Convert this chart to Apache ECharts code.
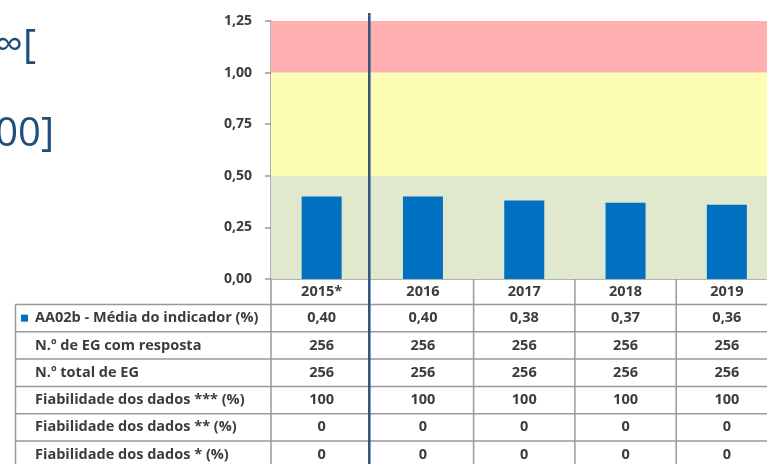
<!DOCTYPE html>
<html>
<head>
<meta charset="utf-8">
<script src="https://cdn.jsdelivr.net/npm/echarts@6/dist/echarts.min.js"></script>
<style>
html,body{margin:0;padding:0;background:#fff;}
#chart{width:767px;height:464px;}
</style>
</head>
<body>
<div id="chart"></div>
<script>
// ---- data ----
const categories = ['2015*', '2016', '2017', '2018', '2019'];
const mediaIndicador = [0.40, 0.40, 0.38, 0.37, 0.36];
const egComResposta = [256, 256, 256, 256, 256];
const totalEG = [256, 256, 256, 256, 256];
const fiabilidade3 = [100, 100, 100, 100, 100];
const fiabilidade2 = [0, 0, 0, 0, 0];
const fiabilidade1 = [0, 0, 0, 0, 0];
const rowLabels = [
  'AA02b - Média do indicador (%)',
  'N.º de EG com resposta',
  'N.º total de EG',
  'Fiabilidade dos dados *** (%)',
  'Fiabilidade dos dados ** (%)',
  'Fiabilidade dos dados * (%)'
];
const bandLimits = [0, 0.5, 1.0, 1.25];
const yMin = 0, yMax = 1.25, yInterval = 0.25;
const titleFragments = ['∞[', '00]'];

const fmtComma = v => v.toFixed(2).replace('.', ',');
const tableRows = [
  mediaIndicador.map(fmtComma),
  egComResposta.map(String),
  totalEG.map(String),
  fiabilidade3.map(String),
  fiabilidade2.map(String),
  fiabilidade1.map(String)
];

// ---- styles ----
const bandColors = ['#E0E8CE', '#FEFDB4', '#FFB1B1'];
const barColor = '#0070C0';
const gridLineColor = '#999999';
const textColor = '#3c3c3c';
const tableFont = 'bold 14.5px "Open Sans"';

const chart = echarts.init(document.getElementById('chart'), null, {renderer: 'canvas'});

const option = {
  animation: false,
  backgroundColor: '#ffffff',
  grid: {left: 271, top: 21, width: 506.5, height: 258, containLabel: false, outerBoundsMode: 'none'},
  xAxis: {
    type: 'category',
    data: categories,
    axisLine: {show: true, lineStyle: {color: gridLineColor, width: 1.5}},
    axisTick: {show: false},
    axisLabel: {
      color: textColor, fontFamily: 'Open Sans', fontWeight: 'bold', fontSize: 14.5, margin: 5
    },
    splitLine: {show: false}
  },
  yAxis: {
    type: 'value',
    min: yMin, max: yMax, interval: yInterval,
    axisLine: {show: true, lineStyle: {color: gridLineColor, width: 1.5}},
    axisTick: {show: true, length: 6, lineStyle: {color: gridLineColor, width: 1.5}},
    axisLabel: {
      color: textColor, fontFamily: 'Open Sans', fontWeight: 'bold', fontSize: 14, margin: 19,
      formatter: v => fmtComma(v)
    },
    splitLine: {show: false}
  },
  series: [{
    type: 'bar',
    data: mediaIndicador,
    barWidth: 40,
    itemStyle: {color: barColor},
    markArea: {
      silent: true,
      data: bandLimits.slice(0, -1).map((lo, i) => [
        {yAxis: lo, itemStyle: {color: bandColors[i]}},
        {yAxis: bandLimits[i + 1]}
      ])
    }
  }]
};
chart.setOption(option);

// ---- table & decorations built from axis positions ----
const centers = categories.map(c => chart.convertToPixel({xAxisIndex: 0}, c));
const step = centers[1] - centers[0];
const bounds = centers.map(c => c - step / 2).concat([centers[centers.length - 1] + step / 2]);
const yZero = chart.convertToPixel({yAxisIndex: 0}, 0);
const yTop = chart.convertToPixel({yAxisIndex: 0}, yMax);
const headerBottom = 304.5;
const rowH = 27.3;
const labelLeft = 15.5;
const bottomEdge = 470;

const g = [];
const line = (x1, y1, x2, y2, color, w, z) => g.push({
  type: 'line', silent: true, z: z || 10,
  shape: {x1, y1, x2, y2},
  style: {stroke: color, lineWidth: w}
});

// horizontal table lines
for (let r = 0; r <= rowLabels.length; r++) {
  const y = headerBottom + r * rowH;
  line(labelLeft, y, bounds[bounds.length - 1], y, gridLineColor, 1.5);
}
// vertical table lines
line(labelLeft, headerBottom, labelLeft, bottomEdge, gridLineColor, 1.5);
bounds.forEach((x, i) => {
  if (i === 1) return; // covered by the separator
  line(x, yZero, x, bottomEdge, gridLineColor, 1.5);
});
// separator between 2015* and 2016
line(bounds[1] - 3, yTop - 8, bounds[1] - 3, bottomEdge, '#35587f', 2.6, 20);

// row labels + values
rowLabels.forEach((lab, r) => {
  const yc = headerBottom + r * rowH + rowH / 2;
  g.push({
    type: 'text', silent: true, z: 15, x: 35, y: yc,
    style: {text: lab, font: tableFont, fill: textColor, align: 'left', verticalAlign: 'middle'}
  });
  tableRows[r].forEach((val, c) => {
    g.push({
      type: 'text', silent: true, z: 15, x: centers[c], y: yc,
      style: {text: val, font: tableFont, fill: textColor, align: 'center', verticalAlign: 'middle'}
    });
  });
});
// legend key
g.push({
  type: 'rect', silent: true, z: 15,
  shape: {x: 21, y: headerBottom + rowH / 2 - 3.5, width: 7, height: 7},
  style: {fill: barColor}
});

// clipped title fragments
g.push({
  type: 'text', silent: true, z: 15, x: 36, y: 47,
  style: {text: titleFragments[0], font: '40px "Open Sans"', fill: '#1F4E79', align: 'right', verticalAlign: 'middle'}
});
g.push({
  type: 'text', silent: true, z: 15, x: 54, y: 135,
  style: {text: titleFragments[1], font: '40px "Open Sans"', fill: '#1F4E79', align: 'right', verticalAlign: 'middle'}
});

chart.setOption({graphic: g});
</script>
</body>
</html>
